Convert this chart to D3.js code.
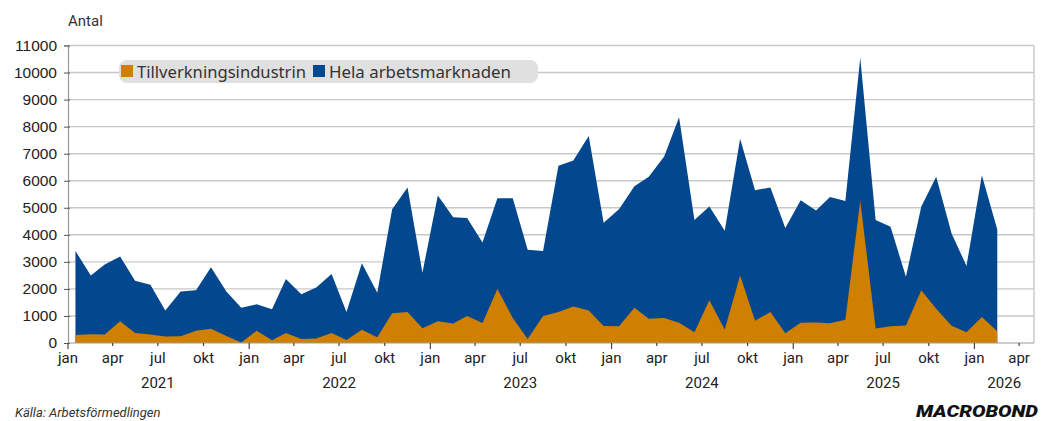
<!DOCTYPE html>
<html>
<head>
<meta charset="utf-8">
<script src="https://cdn.jsdelivr.net/npm/d3@7"></script>
<style>
  body { margin: 0; background: #fff; }
  svg { display: block; font-family: Roboto, "Noto Sans", sans-serif; }
</style>
</head>
<body>
<svg class="chart" width="1046" height="421"></svg>
<script>
// ---- Data (monthly, jan 2021 - feb 2026) ----
const startYear = 2021;
// Hela arbetsmarknaden
const hela = [
  3400, 2500, 2900, 3200, 2300, 2150, 1200, 1900, 1950, 2800, 1900, 1300,
  1430, 1250, 2370, 1800, 2050, 2550, 1150, 2950, 1860, 4950, 5750, 2600,
  5450, 4650, 4620, 3720, 5350, 5350, 3450, 3400, 6550, 6750, 7650, 4450,
  4950, 5800, 6150, 6900, 8350, 4550, 5050, 4150, 7550, 5650, 5750, 4250,
  5280, 4900, 5400, 5250, 10550, 4550, 4300, 2450, 5050, 6150, 4050, 2850,
  6200, 4200
];
// Tillverkningsindustrin
const tillv = [
  300, 320, 310, 800, 370, 310, 240, 250, 450, 530, 260, 20,
  450, 100, 370, 150, 170, 370, 110, 490, 210, 1100, 1150, 550,
  800, 720, 1000, 740, 2000, 920, 150, 1000, 1150, 1350, 1200, 630,
  620, 1300, 900, 920, 750, 400, 1580, 500, 2500, 820, 1150, 360,
  750, 760, 730, 860, 5250, 540, 620, 650, 1950, 1270, 640, 400,
  960, 430
];
const yTicks = d3.range(0, 11001, 1000);
const monthNames = ["jan", "apr", "jul", "okt"];
const years = [2021, 2022, 2023, 2024, 2025, 2026];

const colOrange = "#d08000", colBlue = "#03478e";

const svg = d3.select("svg.chart");
const L = 68, R = 1034, T = 45.5, B = 343;

const dates = hela.map((_, i) => new Date(startYear, i, 16));
const x = d3.scaleTime()
    .domain([new Date(2021, 0, 1), new Date(2026, 4, 1)])
    .range([L, R]);
const y = d3.scaleLinear().domain([0, 11000]).range([B, T]);

// gridlines
svg.append("g").selectAll("line")
  .data(yTicks.filter(d => d > 0))
  .join("line")
    .attr("x1", L).attr("x2", R)
    .attr("y1", d => y(d)).attr("y2", d => y(d))
    .attr("stroke", "#c8c8c8").attr("stroke-width", 1.4);
// right frame
svg.append("line")
    .attr("x1", R).attr("x2", R).attr("y1", T).attr("y2", B)
    .attr("stroke", "#c8c8c8").attr("stroke-width", 1.4);

// areas
const area = arr => d3.area()
    .x((d, i) => x(dates[i]))
    .y0(y(0))
    .y1(d => y(d))(arr);
svg.append("path").attr("d", area(hela)).attr("fill", colBlue);
svg.append("path").attr("d", area(tillv)).attr("fill", colOrange);

// y axis
const yAxis = svg.append("g")
    .attr("transform", `translate(${L},0)`)
    .call(d3.axisLeft(y).tickValues(yTicks).tickFormat(d3.format("d"))
      .tickSize(4).tickPadding(7));
yAxis.select(".domain").attr("stroke", "#999").attr("stroke-width", 1.2);
yAxis.selectAll(".tick line").attr("stroke", "#555").attr("x2", 2).attr("x1", -4);
yAxis.selectAll("text").attr("font-size", 15.5).attr("fill", "#222");

// x axis
const months = d3.timeMonth.range(new Date(2021, 0, 1), new Date(2026, 4, 2));
const xAxis = svg.append("g").attr("transform", `translate(0,${B})`);
xAxis.append("line").attr("x1", L).attr("x2", R)
    .attr("stroke", "#999").attr("stroke-width", 1.2);
xAxis.selectAll("line.mt")
  .data(months.filter(d => d.getMonth() % 3 === 0))
  .join("line").attr("class", "mt")
    .attr("x1", d => x(d)).attr("x2", d => x(d))
    .attr("y1", 0).attr("y2", d => d.getMonth() === 0 ? 6 : 3)
    .attr("stroke", "#444").attr("stroke-width", 1.2);
xAxis.selectAll("text.ml")
  .data(months.filter(d => d.getMonth() % 3 === 0))
  .join("text").attr("class", "ml")
    .attr("x", d => x(d)).attr("y", 20)
    .attr("text-anchor", "middle").attr("font-size", 15)
    .attr("fill", "#222")
    .text(d => monthNames[d.getMonth() / 3]);
xAxis.selectAll("text.yl")
  .data(years)
  .join("text").attr("class", "yl")
    .attr("x", d => d === 2026 ? (x(new Date(2026, 0, 1)) + R) / 2 : x(new Date(d, 6, 1)))
    .attr("y", 45)
    .attr("text-anchor", "middle").attr("font-size", 15)
    .attr("fill", "#222")
    .text(d => d);

// unit label
svg.append("text").attr("x", 68).attr("y", 26)
    .attr("font-size", 15).attr("fill", "#333").text("Antal");

// legend
const lg = svg.append("g");
lg.append("rect").attr("x", 119).attr("y", 60).attr("width", 419).attr("height", 23)
    .attr("rx", 8).attr("fill", "#e0e0e0");
const items = [["Tillverkningsindustrin", colOrange, 121, 169], ["Hela arbetsmarknaden", colBlue, 313, 182]];
items.forEach(([t, c, lx, tw]) => {
  lg.append("rect").attr("x", lx).attr("y", 65).attr("width", 12).attr("height", 12).attr("fill", c);
  lg.append("text").attr("x", lx + 16).attr("y", 77.5)
      .attr("font-family", "'Noto Sans', Roboto, sans-serif")
      .attr("font-size", 16.5).attr("fill", "#333")
      .attr("textLength", tw).attr("lengthAdjust", "spacingAndGlyphs")
      .text(t);
});

// footer
svg.append("text").attr("x", 15).attr("y", 417)
    .attr("font-size", 13).attr("font-style", "italic").attr("fill", "#333")
    .text("Källa: Arbetsförmedlingen");
svg.append("text").attr("x", 1038).attr("y", 417)
    .attr("text-anchor", "end").attr("font-size", 16).attr("font-weight", 900)
    .attr("font-style", "italic").attr("fill", "#111")
    .attr("textLength", 122).attr("lengthAdjust", "spacingAndGlyphs")
    .text("MACROBOND");
</script>
</body>
</html>
